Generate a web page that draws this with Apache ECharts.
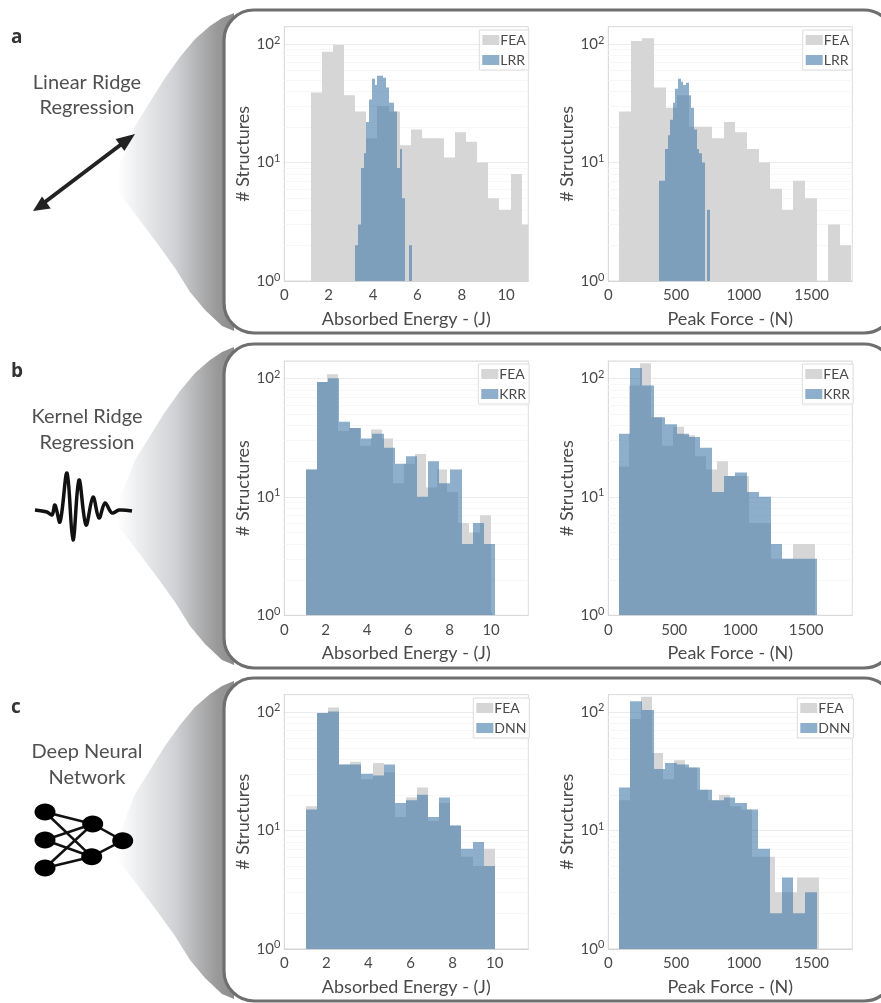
<!DOCTYPE html>
<html><head><meta charset="utf-8">
<style>html,body{margin:0;padding:0;background:#fff}#c{width:881px;height:1003px;filter:blur(0.5px)}</style>
<script src="https://cdn.jsdelivr.net/npm/echarts@6/dist/echarts.min.js"></script>
</head><body><div id="c"></div>
<script>
// ---- panel a ----
const feaEnergyA = [39,86,98,37,27,16,30,27,14,19,16,16,11,18,15,10,5,4,8,3];
const lrrEnergyEdges = [3.2,3.325,3.45,3.575,3.7,3.825,3.95,4.075,4.2,4.325,4.45,4.575,4.7,4.825,4.95,5.075,5.2,5.325,5.45,5.64,5.76];
const lrrEnergy = [2,3,9,12,22,34,51,45,54,54,52,43,32,32,27,9,13,5,0,2];
const feaForceA = [27,106,112,43,29,37,20,20,16,22,18,13,10,6,4,7,5,0,3,2];
const lrrForceEdges = [376,418,438,457,475,495,514,534,553,573,592,612,632,651,671,689,711,731,748];
const lrrForce = [7,13,17,23,32,42,51,48,45,47,37,29,19,13,12,10,0,4];
// ---- panel b ----
const feaEnergyB = [17,93,108,36,38,27,37,31,13,19,23,12,17,11,6,5,7];
const krrEnergy = [17,93,100,43,38,31,34,26,19,22,10,20,13,17,4,6,4];
const feaForceB = [18,87,134,47,27,39,33,22,17,20,15,15,6,6,3,3,4,4];
const krrForce = [34,122,87,47,41,34,32,26,11,15,16,11,10,4,3,3,3];
// ---- panel c ----
const feaEnergyC = [16,98,109,36,38,27,37,31,13,19,23,12,17,11,6,5,7];
const dnnEnergy = [15,98,101,36,36,30,29,36,17,18,20,13,19,11,7,8,5];
const feaForceC = [18,87,134,45,27,39,34,22,18,20,16,15,6,6,3,3,4,4];
const dnnForce = [23,123,104,33,37,36,34,22,18,19,17,15,7,2,4,2,3];
// ---- axis ticks ----
const energyTicks = [0,2,4,6,8,10];
const forceTicks = [0,500,1000,1500];
const minorGridValues = [2,3,4,5,6,7,8,9,20,30,40,50,60,70,80,90];
const methodTitles = [['Linear Ridge','Regression'],['Kernel Ridge','Regression'],['Deep Neural','Network']];
const panelLetters = ['a','b','c'];

const FONT = 'Lato';
const TXT = '#4a4a4a';
const GRAY = '#d6d6d6';
const BLUE = 'rgba(65,122,170,0.6)';

function edgesFrom(start, width, counts){
  return counts.map((_, i) => start + width * i).concat([start + width * counts.length]);
}
function binsOf(edges, counts){
  const out = [];
  counts.forEach((c, i) => { if (c > 0) out.push([edges[i], edges[i+1], c]); });
  return out;
}
const panels = [
 {g:0, left:284.3, top:26.7, xMax:11,   xt:energyTicks, xn:'Absorbed Energy - (J)', interval:2,
  fea:edgesFrom(1.2,0.5,feaEnergyA), feaC:feaEnergyA, mE:lrrEnergyEdges, mC:lrrEnergy, m:'LRR', lg:[479.3,30]},
 {g:1, left:608.3, top:26.7, xMax:1800, xt:forceTicks, xn:'Peak Force - (N)', interval:500,
  fea:edgesFrom(81,85.6,feaForceA), feaC:feaForceA, mE:lrrForceEdges, mC:lrrForce, m:'LRR', lg:[802.7,30]},
 {g:2, left:284.3, top:361, xMax:11.8, xt:energyTicks, xn:'Absorbed Energy - (J)', interval:2,
  fea:edgesFrom(1.03,0.5276,feaEnergyB), feaC:feaEnergyB, mE:edgesFrom(1.03,0.539,krrEnergy), mC:krrEnergy, m:'KRR', lg:[478.3,364]},
 {g:3, left:608.3, top:361, xMax:1850, xt:forceTicks, xn:'Peak Force - (N)', interval:500,
  fea:edgesFrom(78,82.7,feaForceB), feaC:feaForceB, mE:edgesFrom(78,88.6,krrForce), mC:krrForce, m:'KRR', lg:[802.3,364]},
 {g:4, left:284.3, top:694.6, xMax:11.6, xt:energyTicks, xn:'Absorbed Energy - (J)', interval:2,
  fea:edgesFrom(1.03,0.528,feaEnergyC), feaC:feaEnergyC, mE:edgesFrom(1.03,0.528,dnnEnergy), mC:dnnEnergy, m:'DNN', lg:[473.3,698]},
 {g:5, left:608.3, top:694.6, xMax:1800, xt:forceTicks, xn:'Peak Force - (N)', interval:500,
  fea:edgesFrom(76,82.2,feaForceC), feaC:feaForceC, mE:edgesFrom(76,86,dnnForce), mC:dnnForce, m:'DNN', lg:[797.3,698]},
];

function histItem(params, api){
  const cs = params.coordSys;
  const a = api.coord([api.value(0), api.value(2)]);
  const b = api.coord([api.value(1), 1]);
  const x0 = Math.round(a[0]), x1 = Math.round(b[0]);
  const right = cs.x + cs.width;
  const w = Math.min(x1, right) - x0;
  if (w <= 0) return null;
  return {type:'rect', shape:{x:x0, y:a[1], width:w, height:b[1]-a[1]}, style:{fill:api.visual('color')}};
}
function gridLineItem(params, api){
  const cs = params.coordSys;
  const y = Math.round(api.coord([0, api.value(0)])[1]) + 0.5;
  return {type:'line', shape:{x1:cs.x, y1:y, x2:cs.x+cs.width, y2:y}, style:{stroke:'#f7f7f7', lineWidth:1}};
}

const option = {
  animation:false,
  backgroundColor:'#fff',
  textStyle:{fontFamily:FONT},
  grid:[], xAxis:[], yAxis:[], series:[], legend:[], graphic:[]
};
panels.forEach(p => {
  option.grid.push({left:p.left, top:p.top, width:244, height:254.3, show:true, backgroundColor:'transparent',
    borderColor:'#dcdcdc', borderWidth:1, z:1});
  option.xAxis.push({type:'value', gridIndex:p.g, min:0, max:p.xMax, interval:p.interval,
    name:p.xn, nameLocation:'middle', nameGap:29, nameTextStyle:{fontFamily:FONT,fontSize:18,color:TXT},
    axisLine:{show:true,lineStyle:{color:'#cfcfcf'}}, axisTick:{show:true,inside:true,length:3,lineStyle:{color:'#bdbdbd'}},
    splitLine:{show:false},
    axisLabel:{fontFamily:FONT,fontSize:15,color:TXT,margin:7,showMaxLabel:false,
      formatter:v => p.xt.includes(v) ? String(v) : ''}});
  option.yAxis.push({type:'log', logBase:10, gridIndex:p.g, min:1, max:140,
    name:'# Structures', nameLocation:'middle', nameGap:32, nameTextStyle:{fontFamily:FONT,fontSize:18,color:TXT},
    axisLine:{show:true,lineStyle:{color:'#cfcfcf'}}, axisTick:{show:false},
    splitLine:{show:true,lineStyle:{color:'#ececec',width:1}},
    axisLabel:{fontFamily:FONT,fontSize:15,color:TXT,margin:4,
      formatter:v => {
        const e = Math.log10(v);
        return Math.abs(e-Math.round(e))<1e-6 ? '10{s|'+Math.round(e)+'}' : '';
      },
      rich:{s:{fontSize:11,color:TXT,fontFamily:FONT,verticalAlign:'bottom',padding:[0,0,8,0]}}}});
  option.series.push({type:'custom', name:'grid', xAxisIndex:p.g, yAxisIndex:p.g, z:1, silent:true,
    renderItem:gridLineItem, data:minorGridValues.map(v=>[v]), encode:{y:0}});
  option.series.push({type:'custom', name:'FEA', xAxisIndex:p.g, yAxisIndex:p.g, z:3, clip:true, silent:true,
    itemStyle:{color:GRAY}, renderItem:histItem, data:binsOf(p.fea,p.feaC), encode:{x:[0,1],y:2}});
  option.series.push({type:'custom', name:p.m, xAxisIndex:p.g, yAxisIndex:p.g, z:4, clip:true, silent:true,
    itemStyle:{color:BLUE}, renderItem:histItem, data:binsOf(p.mE,p.mC), encode:{x:[0,1],y:2}});
  option.legend.push({data:[{name:'FEA',icon:'rect'},{name:p.m,icon:'rect'}], orient:'vertical', left:p.lg[0], top:p.lg[1],
    selectedMode:false, backgroundColor:'#fff', borderColor:'#dcdcdc', borderWidth:1, padding:[3,3,3,3],
    itemWidth:17, itemHeight:10, itemGap:6, z:10,
    textStyle:{fontFamily:FONT,fontSize:14,color:TXT,padding:[0,0,0,-4]}});
});

// ---- decoration: funnels, rounded frames, method glyphs ----
const gfx = [];
const offsets = [0,334,668];
const frames = [[10,323],[344,324],[678,323]];
const funnelOutline = [[117,172],[135,126],[150,102],[165,78],[180,57],[195,39],[210,26],[222,18],[234,13],
  [234,331],[222,326],[205,310],[190,292],[175,268],[157,243],[117,190]];
offsets.forEach((dy,i) => {
  gfx.push({type:'polygon', z:-3, silent:true, shape:{points:funnelOutline.map(q=>[q[0],q[1]+dy])},
    style:{fill:{type:'linear',x:0,y:0,x2:1,y2:0,colorStops:[{offset:0,color:'#ffffff'},{offset:0.5,color:'#d0d1d4'},{offset:0.85,color:'#9a9a9a'},{offset:1,color:'#8c8c8c'}]}}});
  gfx.push({type:'rect', z:-2, silent:true, shape:{x:224,y:frames[i][0],width:670,height:frames[i][1],r:30},
    style:{fill:'#fff',stroke:'#6f6f6f',lineWidth:3.2}});
  gfx.push({type:'text', z:5, silent:true, x:11, y:[38,372,708][i], style:{text:panelLetters[i],fontFamily:'Open Sans',fontWeight:'bold',fontSize:19,fill:'#333',verticalAlign:'middle'}});
  gfx.push({type:'text', z:5, silent:true, x:87, y:[83,417,752][i], style:{text:methodTitles[i][0],fontFamily:FONT,fontSize:20,fill:'#505050',align:'center',verticalAlign:'middle'}});
  gfx.push({type:'text', z:5, silent:true, x:87, y:[108,443,778][i], style:{text:methodTitles[i][1],fontFamily:FONT,fontSize:20,fill:'#505050',align:'center',verticalAlign:'middle'}});
});
// double arrow
gfx.push({type:'line',silent:true,shape:{x1:45,y1:202,x2:123,y2:143},style:{stroke:'#222',lineWidth:4}});
gfx.push({type:'polygon',silent:true,shape:{points:[[135,134],[124.4,151],[115.6,139]]},style:{fill:'#222'}});
gfx.push({type:'polygon',silent:true,shape:{points:[[33,211],[50.8,208.6],[42,196.6]]},style:{fill:'#222'}});
// wavelet
gfx.push({type:'polyline',silent:true,shape:{smooth:0.35,points:[[35,510],[47,512],[52,515],[55,505],[60,522],[67,473],[73,540],[79,480],[86,525],[93,497],[99,518],[105,503],[112,513],[119,510],[132,511]]},
  style:{stroke:'#111',lineWidth:3.5,fill:null}});
// network
const nodes = [[45,812],[45,840],[45,868],[92.7,824],[91.7,856.7],[122.7,840.7]];
[[0,3],[0,4],[1,3],[1,4],[2,3],[2,4],[3,5],[4,5]].forEach(e=>{
  gfx.push({type:'line',silent:true,shape:{x1:nodes[e[0]][0],y1:nodes[e[0]][1],x2:nodes[e[1]][0],y2:nodes[e[1]][1]},style:{stroke:'#111',lineWidth:2.5}});
});
nodes.forEach(n=>gfx.push({type:'ellipse',silent:true,shape:{cx:n[0],cy:n[1],rx:10.5,ry:8.5},style:{fill:'#000'}}));
option.graphic = [{id:'deco', elements:gfx}];

echarts.init(document.getElementById('c'), null, {renderer:'canvas'}).setOption(option);
</script></body></html>
